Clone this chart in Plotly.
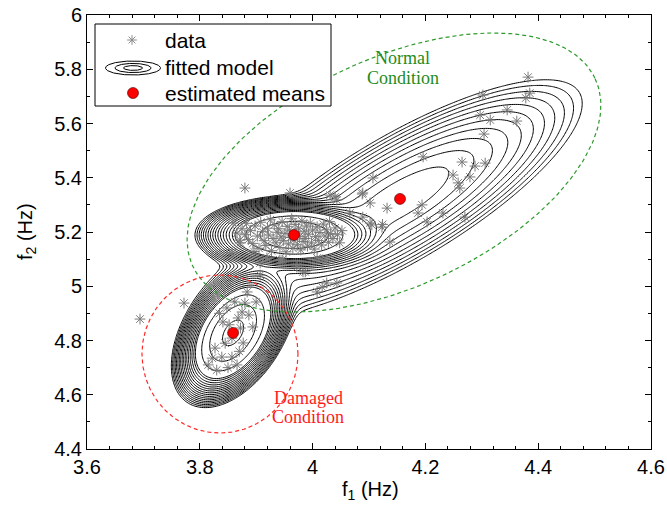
import numpy as np
import plotly.graph_objects as go

# ---------------- data ----------------
f1_data = [
    # upper-right (second normal cluster)
    4.382, 4.385, 4.378, 4.302, 4.297, 4.345, 4.315, 4.362, 4.304, 4.196,
    4.265, 4.288, 4.306, 4.249, 4.279, 4.258, 4.107, 4.088, 4.102, 4.132,
    4.194, 4.187, 4.203, 4.231, 4.270, 4.089, 4.105, 4.123, 4.040, 4.137,
    4.261, 4.089, 4.043, 4.031, 4.066, 4.102, 4.124, 3.960,
    # bridge / lower side of normal cluster
    4.017, 4.043, 4.025, 4.008, 3.983, 3.987, 3.972, 3.919, 3.942, 4.008,
    4.025, 3.907, 3.946, 4.018, 3.859, 3.866, 3.871, 3.857,
    # dense normal cluster
    3.880, 3.886, 3.890, 3.894, 3.898, 3.902, 3.905, 3.908, 3.911, 3.914,
    3.917, 3.920, 3.922, 3.925, 3.927, 3.930, 3.932, 3.935, 3.937, 3.940,
    3.942, 3.944, 3.946, 3.948, 3.951, 3.953, 3.955, 3.957, 3.959, 3.961,
    3.963, 3.965, 3.967, 3.969, 3.971, 3.973, 3.975, 3.977, 3.979, 3.981,
    3.983, 3.985, 3.987, 3.989, 3.991, 3.993, 3.996, 3.998, 4.000, 4.003,
    4.005, 4.008, 4.010, 4.013, 4.016, 4.019, 4.022, 4.025, 4.028, 4.032,
    4.036, 4.040, 4.044, 4.048, 3.875, 3.872, 3.883, 3.896, 4.030, 4.052,
    # damaged cluster
    3.862, 3.880, 3.900, 3.884, 3.907, 3.848, 3.868, 3.887, 3.841, 3.894,
    3.857, 3.877, 3.827, 3.839, 3.857, 3.866, 3.815, 3.830, 3.907, 3.912,
    3.822, 3.872, 3.852, 3.870, 3.850, 3.845, 3.875, 3.835,
    # isolated points
    3.694, 3.772, 3.880,
]
f2_data = [
    5.771, 5.712, 5.694, 5.705, 5.631, 5.650, 5.613, 5.609, 5.561, 5.477,
    5.458, 5.443, 5.454, 5.410, 5.403, 5.381, 5.399, 5.340, 5.307, 5.288,
    5.300, 5.270, 5.237, 5.270, 5.255, 5.255, 5.226, 5.218, 5.329, 5.163,
    5.362, 5.344, 5.318, 5.336, 5.270, 5.233, 5.228, 5.344,
    4.997, 5.012, 5.012, 4.979, 5.053, 5.053, 5.071, 5.104, 5.097, 5.104,
    5.097, 5.086, 5.097, 5.097, 5.233, 5.196, 5.170, 5.123,
    5.190, 5.172, 5.205, 5.158, 5.222, 5.185, 5.140, 5.236, 5.201, 5.168,
    5.150, 5.214, 5.189, 5.245, 5.131, 5.176, 5.226, 5.160, 5.199, 5.212,
    5.143, 5.182, 5.238, 5.168, 5.195, 5.127, 5.221, 5.156, 5.207, 5.180,
    5.249, 5.140, 5.171, 5.228, 5.196, 5.153, 5.214, 5.184, 5.134, 5.241,
    5.165, 5.203, 5.176, 5.222, 5.148, 5.192, 5.233, 5.160, 5.207, 5.137,
    5.183, 5.219, 5.169, 5.198, 5.152, 5.229, 5.185, 5.208, 5.162, 5.194,
    5.176, 5.215, 5.190, 5.160, 5.212, 5.160, 5.232, 5.128, 5.238, 5.205,
    4.942, 4.938, 4.942, 4.979, 5.041, 4.920, 4.883, 4.894, 4.868, 4.850,
    4.809, 4.791, 4.772, 4.739, 4.739, 4.710, 4.710, 4.691, 4.739, 4.735,
    4.735, 4.846, 4.858, 4.760, 4.700, 4.790, 4.905, 4.900,
    4.879, 4.938, 5.362,
]

# fitted Gaussian-mixture model (components: damaged, normal-1, normal-2)
mean_f1 = [3.859, 3.967, 4.155]
mean_f2 = [4.828, 5.189, 5.322]
sd_f1 = [0.0276, 0.045, 0.125]
sd_f2 = [0.0696, 0.037, 0.170]
corr = [0.45, 0.0, 0.80]
mix_w = [0.54, 0.415, 0.045]

x_ticks = [3.6, 3.8, 4.0, 4.2, 4.4, 4.6]
x_tick_text = ["3.6", "3.8", "4", "4.2", "4.4", "4.6"]
y_ticks = [4.4, 4.6, 4.8, 5.0, 5.2, 5.4, 5.6, 5.8, 6.0]
y_tick_text = ["4.4", "4.6", "4.8", "5", "5.2", "5.4", "5.6", "5.8", "6"]

# condition regions (ellipse centre + two semi-axis vectors)
normal_center = (4.1443, 5.4194)
normal_axis_a = (0.3567, 0.3458)
normal_axis_b = (0.0855, -0.3808)
damaged_center = (3.8358, 4.7502)
damaged_axis_a = (0.1383, 0.0)
damaged_axis_b = (0.0, 0.2912)


def log_pdf(X, Y):
    parts = []
    for w, m1, m2, s1, s2, r in zip(mix_w, mean_f1, mean_f2, sd_f1, sd_f2, corr):
        dx = (X - m1) / s1
        dy = (Y - m2) / s2
        q = (dx * dx - 2 * r * dx * dy + dy * dy) / (1 - r * r)
        parts.append(np.log(w) - np.log(2 * np.pi * s1 * s2 * np.sqrt(1 - r * r)) - q / 2)
    parts = np.array(parts)
    mx = parts.max(axis=0)
    return mx + np.log(np.exp(parts - mx).sum(axis=0))


gx = np.linspace(3.6, 4.6, 301)
gy = np.linspace(4.4, 6.0, 321)
GX, GY = np.meshgrid(gx, gy)
ref = float(log_pdf(np.array(mean_f1[1]), np.array(mean_f2[1])))
Z = np.maximum(log_pdf(GX, GY), ref - 20)

fig = go.Figure()
black = [[0, "black"], [1, "black"]]
for start, end, size in [(ref - 7.6, ref - 2.85, 0.31), (ref - 2.7, ref + 3.0, 0.9)]:
    fig.add_trace(go.Contour(
        x=gx, y=gy, z=Z, autocontour=False,
        contours=dict(coloring="lines", start=start, end=end, size=size, showlabels=False),
        line=dict(width=1), colorscale=black, showscale=False, hoverinfo="skip",
    ))

t = np.linspace(0, 2 * np.pi, 240)
for c, a, b, col in [(normal_center, normal_axis_a, normal_axis_b, "#2e9a2e"),
                     (damaged_center, damaged_axis_a, damaged_axis_b, "#ff2a2a")]:
    ex = c[0] + a[0] * np.cos(t) + b[0] * np.sin(t)
    ey = c[1] + a[1] * np.cos(t) + b[1] * np.sin(t)
    fig.add_trace(go.Scatter(x=ex, y=ey, mode="lines",
                             line=dict(color=col, width=1.2, dash="4px,3px"),
                             hoverinfo="skip", showlegend=False))

fig.add_trace(go.Scatter(
    x=f1_data, y=f2_data, mode="markers",
    marker=dict(symbol="asterisk-open", size=9, color="#7a7a7a",
                line=dict(color="#7a7a7a", width=1)),
    showlegend=False, hoverinfo="skip"))

fig.add_trace(go.Scatter(
    x=mean_f1, y=mean_f2, mode="markers",
    marker=dict(symbol="circle", size=11, color="#ff0000", line=dict(color="#400000", width=0.6)),
    showlegend=False, hoverinfo="skip"))

# ---------------- hand-drawn legend (on an overlay 0..1 axis) ----------------
def px_to_paper(px, py):
    return (px - 87) / 564.0, (449 - py) / 434.0

bx0, by0 = px_to_paper(95, 106)
bx1, by1 = px_to_paper(331, 24)
fig.add_trace(go.Scatter(x=[bx0, bx1, bx1, bx0, bx0], y=[by0, by0, by1, by1, by0],
                         mode="lines", fill="toself", fillcolor="white",
                         line=dict(color="black", width=1), xaxis="x2", yaxis="y2",
                         hoverinfo="skip", showlegend=False))
ax, ay = px_to_paper(132, 40)
fig.add_trace(go.Scatter(x=[ax], y=[ay], mode="markers", xaxis="x2", yaxis="y2",
                         marker=dict(symbol="asterisk-open", size=8, color="#8a8a8a",
                                     line=dict(color="#8a8a8a", width=1)),
                         hoverinfo="skip", showlegend=False))
mx_, my_ = px_to_paper(133, 93)
fig.add_trace(go.Scatter(x=[mx_], y=[my_], mode="markers", xaxis="x2", yaxis="y2",
                         marker=dict(symbol="circle", size=11, color="#ff0000", line=dict(color="#400000", width=0.6)),
                         hoverinfo="skip", showlegend=False))
for hw, hh in [(27.5, 7.0), (18.0, 4.6), (9.5, 2.4)]:
    ex = (133 + hw * np.cos(t) - 87) / 564.0
    ey = (449 - (68 + hh * np.sin(t))) / 434.0
    fig.add_trace(go.Scatter(x=ex, y=ey, mode="lines", xaxis="x2", yaxis="y2",
                             line=dict(color="black", width=1), hoverinfo="skip", showlegend=False))

annotations = []
for label, py in [("data", 40), ("fitted model", 68), ("estimated means", 93)]:
    lx, ly = px_to_paper(163, py)
    annotations.append(dict(x=lx, y=ly, xref="paper", yref="paper", text=label,
                            showarrow=False, xanchor="left", yanchor="middle",
                            font=dict(family="Liberation Sans, Arial", size=21, color="black")))

for text, x, y, col in [("Normal", 4.1594, 5.8415, "#1e8c1e"), ("Condition", 4.1603, 5.7677, "#1e8c1e"),
                        ("Damaged", 3.9927, 4.588, "#ff1a1a"), ("Condition", 3.9918, 4.518, "#ff1a1a")]:
    annotations.append(dict(x=x, y=y, xref="x", yref="y", text=text, showarrow=False,
                            xanchor="center", yanchor="middle",
                            font=dict(family="Liberation Serif, Times New Roman", size=18, color=col)))

tickfont = dict(family="Liberation Sans, Arial", size=20, color="black")
xt, yt = px_to_paper(370, 490)
annotations.append(dict(x=xt, y=yt, xref="paper", yref="paper", text="f<sub>1</sub> (Hz)",
                        showarrow=False, xanchor="center", yanchor="middle", font=tickfont))
xt, yt = px_to_paper(26, 232)
annotations.append(dict(x=xt, y=yt, xref="paper", yref="paper", text="f<sub>2</sub> (Hz)",
                        showarrow=False, xanchor="center", yanchor="middle", textangle=-90,
                        font=tickfont))

fig.update_layout(
    width=667, height=510,
    margin=dict(l=87, r=16, t=15, b=61, autoexpand=False),
    paper_bgcolor="white", plot_bgcolor="white",
    showlegend=False,
    annotations=annotations,
    xaxis=dict(range=[3.6, 4.6], tickvals=x_ticks, ticktext=x_tick_text, automargin=False,
               ticklabeloverflow="allow",
               ticks="inside", ticklen=6, tickcolor="black", showline=True, linecolor="black",
               linewidth=1, mirror="allticks", showgrid=False, zeroline=False, tickfont=tickfont,
               minor=dict(dtick=0.04, ticks="inside", ticklen=3, tickcolor="black", showgrid=False)),
    yaxis=dict(range=[4.4, 6.0], tickvals=y_ticks, ticktext=y_tick_text, automargin=False,
               ticklabeloverflow="allow",
               ticks="inside", ticklen=6, tickcolor="black", showline=True, linecolor="black",
               linewidth=1, mirror="allticks", showgrid=False, zeroline=False, tickfont=tickfont,
               minor=dict(dtick=0.1, ticks="inside", ticklen=3, tickcolor="black", showgrid=False)),
    xaxis2=dict(range=[0, 1], overlaying="x", visible=False, anchor="y2"),
    yaxis2=dict(range=[0, 1], overlaying="y", visible=False, anchor="x2"),
)

# remove the browser's default 8 px body margin so the 667x510 figure fills the window
fig.write_html("out.html", config={"displayModeBar": False},
               post_script="document.body.style.margin='0';document.body.style.overflow='hidden';")
